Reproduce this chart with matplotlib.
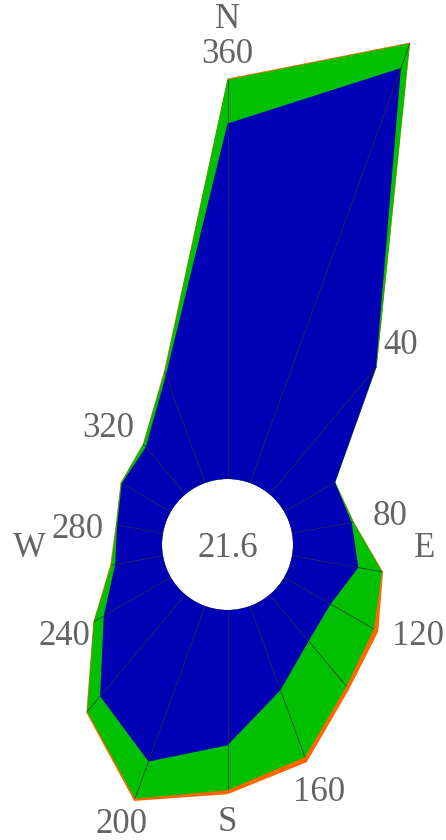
import numpy as np
import matplotlib
matplotlib.use("Agg")
import matplotlib.pyplot as plt
from matplotlib.transforms import offset_copy

# Direction sectors (degrees, clockwise from north)
directions = [0, 20, 40, 60, 80, 100, 120, 140, 160, 180,
              200, 220, 240, 260, 280, 300, 320, 340]

# Frequency per sector (%) for each class, stacked from the centre outwards
low = [10.61, 13.18, 4.94, 1.75, 1.81, 2.01, 1.60, 1.81, 2.67, 4.04,
       4.94, 3.96, 2.31, 1.45, 1.39, 1.69, 1.84, 3.42]
mid = [1.31, 0.78, 0.03, 0.01, 0.06, 0.72, 1.49, 1.76, 2.13, 1.34,
       1.18, 0.60, 0.34, 0.12, 0.03, 0.03, 0.12, 0.12]
high = [0.03, 0.03, 0.01, 0.00, 0.01, 0.03, 0.15, 0.12, 0.16, 0.12,
        0.07, 0.04, 0.02, 0.03, 0.01, 0.01, 0.01, 0.03]

calm = 21.6

# Direction labels with their placement (angle in degrees, radius in %)
tick_labels = ["360", "40", "80", "120", "160", "200", "240", "280", "320"]
tick_angles = [0, 40.6, 78.7, 114.9, 159.4, 201.0, 241.8, 277.4, 315.0]
tick_radii = [12.78, 6.01, 2.99, 4.31, 5.81, 6.88, 3.58, 2.55, 3.09]

compass_labels = ["N", "E", "S", "W"]
compass_angles = [0, 90, 180, 270]
compass_radii = [13.85, 3.94, 6.22, 3.97]

colors = {"low": "#0000b4", "mid": "#00c000", "high": "#ff6600"}
text_color = "#646464"
font = ["Liberation Serif", "DejaVu Serif"]

W, H = 446, 840
px_per_unit = 33.5
hole_px = 65.5
radius_px = 540
cx, cy = 227.5, H - 544.5

fig = plt.figure(figsize=(W / 100, H / 100), dpi=100)
fig.patch.set_facecolor("white")
ax = fig.add_axes([(cx - radius_px) / W, (cy - radius_px) / H,
                   2 * radius_px / W, 2 * radius_px / H], projection="polar")
ax.set_theta_zero_location("N")
ax.set_theta_direction(-1)
rorigin = -hole_px / px_per_unit
ax.set_rorigin(rorigin)
ax.set_ylim(0, radius_px / px_per_unit + rorigin)

theta = np.deg2rad(directions)
theta_closed = np.append(theta, theta[0])
c1 = np.array(low)
c2 = c1 + np.array(mid)
c3 = c2 + np.array(high)

for vals, key in [(c3, "high"), (c2, "mid"), (c1, "low")]:
    ax.fill(theta_closed, np.append(vals, vals[0]), color=colors[key],
            lw=0, antialiased=True)

ax.vlines(theta, 0, c2, colors="#2f2f3f", lw=0.6, alpha=0.8)

ax.grid(False)
ax.set_xticks([])
ax.set_yticks([])
# the inner spine is re-enabled at draw time, so make it invisible by style
for sp in ax.spines.values():
    sp.set_visible(False)
    sp.set_linewidth(0)
    sp.set_edgecolor("none")
ax.set_facecolor("white")

fs = 25
txt_tr = offset_copy(ax.transData, fig=fig, x=0, y=-4, units="dots")
for lab, a, r in zip(tick_labels + compass_labels,
                     tick_angles + compass_angles,
                     tick_radii + compass_radii):
    ax.text(np.deg2rad(a), r, lab, ha="center", va="center", fontsize=fs,
            color=text_color, family=font, clip_on=False, transform=txt_tr)

ax.text(0.5, 0.5, f"{calm}",
        transform=offset_copy(ax.transAxes, fig=fig, x=0, y=-4, units="dots"),
        ha="center", va="center", fontsize=fs, color=text_color, family=font)

fig.savefig("out.png", dpi=100, facecolor="white")
